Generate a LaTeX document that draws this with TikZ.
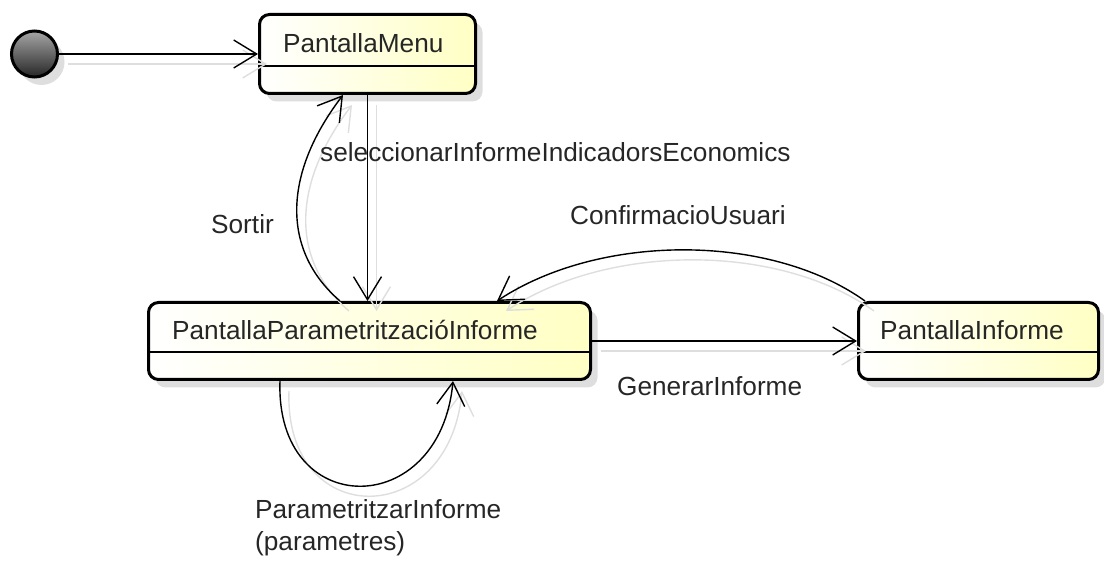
\documentclass[tikz,border=0pt]{standalone}
\usepackage{fontspec}
\setmainfont{Liberation Sans}
\usetikzlibrary{arrows.meta,shadows,calc}

\definecolor{stfill}{HTML}{FFFFC4}
\definecolor{txt}{HTML}{262626}

\tikzset{
  statebox/.style={draw=black, line width=3pt, rounded corners=10pt,
    left color=white, right color=stfill, inner sep=0pt,
    drop shadow={shadow xshift=7pt, shadow yshift=-8pt, fill=black!13, opacity=1}},
  initstate/.style={circle, draw=black, line width=3pt, inner sep=0pt,
    minimum size=46pt, top color=black!35, bottom color=black!85,
    drop shadow={shadow xshift=7pt, shadow yshift=-8pt, fill=black!13, opacity=1}},
  divider/.style={line width=1.5pt},
  lbl/.style={font=\fontsize{26.2}{32}\selectfont, text=txt, inner sep=0pt},
  trans/.style={draw=black, line width=1.4pt,
    -{Straight Barb[length=23pt,width=28pt,line width=1.4pt]}},
  ghost/.style={trans, draw=black!13,
    transform canvas={xshift=9pt,yshift=-10pt}},
}

\begin{document}
\begin{tikzpicture}[x=1pt,y=-1pt]
\useasboundingbox (0,0) rectangle (1104,561);

% states
\node[initstate] (init) at (34.5,54) {};
\node[statebox, minimum width=216pt, minimum height=79pt] (menu) at (367.5,54) {};
\node[statebox, minimum width=442pt, minimum height=77pt] (param) at (369.5,341) {};
\node[statebox, minimum width=240pt, minimum height=77pt] (info) at (978.5,341) {};

% compartment dividers
\draw[divider] (menu.west |- 0,66) -- (menu.east |- 0,66);
\draw[divider] (param.west |- 0,352) -- (param.east |- 0,352);
\draw[divider] (info.west |- 0,352) -- (info.east |- 0,352);

% state names
\node[lbl, anchor=base west] (menuname) at ($(menu.west)+(25,-1)$) {PantallaMenu};
\node[lbl, anchor=base west] (paramname) at ($(param.west)+(25,-1)$) {PantallaParametritzacióInforme};
\node[lbl, anchor=base west] (infoname) at ($(info.west)+(23,-1)$) {PantallaInforme};

% connector end points
\coordinate (sortA) at ($(param.north)+(-29.5,0)$);
\coordinate (sortB) at ($(menu.south)+(-24.5,0)$);
\coordinate (confA) at ($(info.north west)+(8,0)$);
\coordinate (confB) at ($(param.north)+(127.5,0)$);
\coordinate (loopA) at ($(param.south)+(-89.5,0)$);
\coordinate (loopB) at ($(param.south)+(83.5,0)$);

% soft copies of the transitions
\draw[ghost] (init.east) -- (menu.west |- init.east);
\draw[ghost] (menu.south) -- (menu.south |- param.north);
\draw[ghost] (sortA) .. controls +(-58,-50) and +(-61,80) .. (sortB);
\draw[ghost] (confA) .. controls +(-95,-68) and +(103,-68) .. (confB);
\draw[ghost] (param.east) -- (info.west);
\draw[ghost] (loopA) .. controls +(-5,140) and +(-13,140) .. (loopB);

% transitions
\draw[trans] (init.east) -- (menu.west |- init.east);
\draw[trans] (menu.south) -- (menu.south |- param.north);
\draw[trans] (sortA) .. controls +(-58,-50) and +(-61,80) .. (sortB);
\draw[trans] (confA) .. controls +(-95,-68) and +(103,-68) .. (confB);
\draw[trans] (param.east) -- (info.west);
\draw[trans] (loopA) .. controls +(-5,140) and +(-13,140) .. (loopB);

% transition labels
\node[lbl, anchor=base west] (selLbl) at (320,162) {seleccionarInformeIndicadorsEconomics};
\node[lbl, anchor=base west] (sortLbl) at (211,234) {Sortir};
\node[lbl, anchor=base west] (confLbl) at (570,225) {ConfirmacioUsuari};
\node[lbl, anchor=base west] (genLbl) at (617,396) {GenerarInforme};
\node[lbl, anchor=base west, align=left] (parLbl) at (255,550) {ParametritzarInforme\\(parametres)};
\end{tikzpicture}
\end{document}
